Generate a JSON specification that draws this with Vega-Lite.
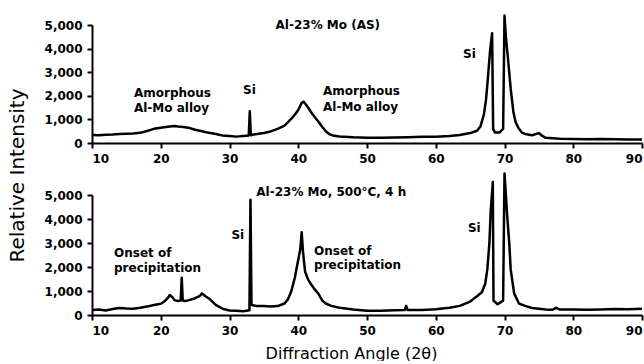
{
  "$schema": "https://vega.github.io/schema/vega-lite/v6.json",
  "background": "white",
  "padding": {"left": 7, "top": 14, "right": 0, "bottom": 0},
  "config": {
    "view": {"stroke": null},
    "font": "DejaVu Sans",
    "axis": {
      "grid": false,
      "domainColor": "black",
      "domainWidth": 2,
      "tickColor": "black",
      "tickWidth": 2,
      "tickSize": 5,
      "labelColor": "black",
      "labelFont": "DejaVu Sans",
      "labelFontWeight": "bold",
      "labelFontSize": 12,
      "labelPadding": 5,
      "labelOverlap": false,
      "labelBound": false,
      "titleColor": "black",
      "titleFont": "DejaVu Sans",
      "titleFontWeight": "normal"
    }
  },
  "datasets": {
    "asdep": [
      {"angle": 10, "intensity": 340}, {"angle": 11, "intensity": 330}, {"angle": 12, "intensity": 350}, {"angle": 13, "intensity": 360},
      {"angle": 14, "intensity": 380}, {"angle": 15, "intensity": 390}, {"angle": 16, "intensity": 400}, {"angle": 17, "intensity": 430},
      {"angle": 18, "intensity": 510}, {"angle": 19, "intensity": 600}, {"angle": 20, "intensity": 650}, {"angle": 21, "intensity": 690},
      {"angle": 22, "intensity": 720}, {"angle": 22.5, "intensity": 700}, {"angle": 23, "intensity": 690}, {"angle": 24, "intensity": 650},
      {"angle": 25, "intensity": 560}, {"angle": 26, "intensity": 500}, {"angle": 27, "intensity": 430}, {"angle": 28, "intensity": 380},
      {"angle": 29, "intensity": 320}, {"angle": 30, "intensity": 300}, {"angle": 31, "intensity": 270}, {"angle": 32, "intensity": 300},
      {"angle": 32.8, "intensity": 320}, {"angle": 32.95, "intensity": 1350}, {"angle": 33.1, "intensity": 330}, {"angle": 33.5, "intensity": 360},
      {"angle": 34, "intensity": 380}, {"angle": 35, "intensity": 420}, {"angle": 36, "intensity": 490}, {"angle": 37, "intensity": 600},
      {"angle": 38, "intensity": 740}, {"angle": 39, "intensity": 1030}, {"angle": 39.5, "intensity": 1200}, {"angle": 40, "intensity": 1400},
      {"angle": 40.5, "intensity": 1700}, {"angle": 40.8, "intensity": 1750}, {"angle": 41.2, "intensity": 1600}, {"angle": 41.6, "intensity": 1430},
      {"angle": 42, "intensity": 1250}, {"angle": 42.5, "intensity": 1060}, {"angle": 43, "intensity": 880}, {"angle": 43.5, "intensity": 680},
      {"angle": 44, "intensity": 500}, {"angle": 44.5, "intensity": 380}, {"angle": 45, "intensity": 320}, {"angle": 46, "intensity": 280},
      {"angle": 48, "intensity": 240}, {"angle": 50, "intensity": 220}, {"angle": 52, "intensity": 220}, {"angle": 54, "intensity": 230},
      {"angle": 56, "intensity": 240}, {"angle": 58, "intensity": 260}, {"angle": 60, "intensity": 270}, {"angle": 62, "intensity": 300},
      {"angle": 63.5, "intensity": 340}, {"angle": 65, "intensity": 420}, {"angle": 66, "intensity": 520}, {"angle": 66.5, "intensity": 700},
      {"angle": 67, "intensity": 1200}, {"angle": 67.3, "intensity": 1800}, {"angle": 67.6, "intensity": 2800}, {"angle": 67.9, "intensity": 3900},
      {"angle": 68.2, "intensity": 4650}, {"angle": 68.35, "intensity": 600}, {"angle": 68.6, "intensity": 450}, {"angle": 69.3, "intensity": 450},
      {"angle": 69.8, "intensity": 600}, {"angle": 70.0, "intensity": 5400}, {"angle": 70.2, "intensity": 4500}, {"angle": 70.5, "intensity": 3600},
      {"angle": 70.9, "intensity": 2300}, {"angle": 71.3, "intensity": 1300}, {"angle": 71.6, "intensity": 900}, {"angle": 72, "intensity": 650},
      {"angle": 72.5, "intensity": 450}, {"angle": 73, "intensity": 380}, {"angle": 74, "intensity": 330}, {"angle": 75, "intensity": 420},
      {"angle": 75.5, "intensity": 300}, {"angle": 76, "intensity": 220}, {"angle": 78, "intensity": 180}, {"angle": 80, "intensity": 170},
      {"angle": 82, "intensity": 160}, {"angle": 84, "intensity": 170}, {"angle": 86, "intensity": 160}, {"angle": 88, "intensity": 150},
      {"angle": 90, "intensity": 150}
    ],
    "annealed": [
      {"angle": 10, "intensity": 210}, {"angle": 11, "intensity": 230}, {"angle": 12, "intensity": 190}, {"angle": 13, "intensity": 250},
      {"angle": 14, "intensity": 290}, {"angle": 15, "intensity": 270}, {"angle": 16, "intensity": 260}, {"angle": 17, "intensity": 300},
      {"angle": 18, "intensity": 350}, {"angle": 19, "intensity": 420}, {"angle": 20, "intensity": 470}, {"angle": 20.5, "intensity": 560},
      {"angle": 21, "intensity": 700}, {"angle": 21.3, "intensity": 830}, {"angle": 21.7, "intensity": 740}, {"angle": 22, "intensity": 620},
      {"angle": 22.5, "intensity": 580}, {"angle": 22.9, "intensity": 600}, {"angle": 23.05, "intensity": 1550}, {"angle": 23.2, "intensity": 600},
      {"angle": 23.6, "intensity": 580}, {"angle": 24, "intensity": 610}, {"angle": 25, "intensity": 700}, {"angle": 25.7, "intensity": 800},
      {"angle": 26, "intensity": 900}, {"angle": 26.5, "intensity": 780}, {"angle": 27, "intensity": 690}, {"angle": 27.5, "intensity": 560},
      {"angle": 28, "intensity": 420}, {"angle": 29, "intensity": 260}, {"angle": 30, "intensity": 190}, {"angle": 31, "intensity": 180},
      {"angle": 32, "intensity": 160}, {"angle": 32.9, "intensity": 200}, {"angle": 33.05, "intensity": 4800}, {"angle": 33.2, "intensity": 420},
      {"angle": 33.6, "intensity": 400}, {"angle": 34, "intensity": 370}, {"angle": 35, "intensity": 370}, {"angle": 36, "intensity": 350},
      {"angle": 37, "intensity": 370}, {"angle": 38, "intensity": 480}, {"angle": 38.5, "intensity": 650}, {"angle": 39, "intensity": 1000},
      {"angle": 39.5, "intensity": 1550}, {"angle": 40, "intensity": 2300}, {"angle": 40.3, "intensity": 2750}, {"angle": 40.5, "intensity": 3450},
      {"angle": 40.7, "intensity": 2600}, {"angle": 41, "intensity": 1800}, {"angle": 41.4, "intensity": 1500}, {"angle": 41.8, "intensity": 1300},
      {"angle": 42.3, "intensity": 1100}, {"angle": 42.9, "intensity": 900}, {"angle": 43.5, "intensity": 600}, {"angle": 44, "intensity": 480},
      {"angle": 44.8, "intensity": 380}, {"angle": 46, "intensity": 300}, {"angle": 48, "intensity": 230}, {"angle": 50, "intensity": 180},
      {"angle": 52, "intensity": 180}, {"angle": 54, "intensity": 200}, {"angle": 55.5, "intensity": 210}, {"angle": 55.7, "intensity": 380},
      {"angle": 55.9, "intensity": 210}, {"angle": 58, "intensity": 210}, {"angle": 60, "intensity": 240}, {"angle": 62, "intensity": 300},
      {"angle": 63.5, "intensity": 380}, {"angle": 65, "intensity": 560}, {"angle": 66, "intensity": 780}, {"angle": 66.7, "intensity": 950},
      {"angle": 67.2, "intensity": 1300}, {"angle": 67.5, "intensity": 1900}, {"angle": 67.8, "intensity": 2970}, {"angle": 68.0, "intensity": 4370},
      {"angle": 68.3, "intensity": 5540}, {"angle": 68.4, "intensity": 600}, {"angle": 69, "intensity": 450}, {"angle": 69.8, "intensity": 600},
      {"angle": 70.0, "intensity": 5900}, {"angle": 70.4, "intensity": 4100}, {"angle": 70.7, "intensity": 2960}, {"angle": 70.9, "intensity": 1900},
      {"angle": 71.4, "intensity": 900}, {"angle": 72.1, "intensity": 480}, {"angle": 73, "intensity": 380}, {"angle": 74, "intensity": 290},
      {"angle": 75, "intensity": 260}, {"angle": 76, "intensity": 230}, {"angle": 77, "intensity": 220}, {"angle": 77.5, "intensity": 300},
      {"angle": 78, "intensity": 230}, {"angle": 80, "intensity": 230}, {"angle": 82, "intensity": 220}, {"angle": 84, "intensity": 230},
      {"angle": 86, "intensity": 250}, {"angle": 88, "intensity": 240}, {"angle": 90, "intensity": 260}
    ],
    "notesTop": [
      {"angle": 44.3, "intensity": 5000, "label": "Al-23% Mo (AS)", "anchor": "center"},
      {"angle": 16.1, "intensity": 2120, "label": "Amorphous", "anchor": "left"},
      {"angle": 16.1, "intensity": 1480, "label": "Al-Mo alloy", "anchor": "left"},
      {"angle": 32.9, "intensity": 2250, "label": "Si", "anchor": "center"},
      {"angle": 43.6, "intensity": 2220, "label": "Amorphous", "anchor": "left"},
      {"angle": 43.6, "intensity": 1540, "label": "Al-Mo alloy", "anchor": "left"},
      {"angle": 64.9, "intensity": 3760, "label": "Si", "anchor": "center"}
    ],
    "notesBottom": [
      {"angle": 33.9, "intensity": 5130, "label": "Al-23% Mo, 500°C, 4 h", "anchor": "left"},
      {"angle": 31.2, "intensity": 3350, "label": "Si", "anchor": "center"},
      {"angle": 13.2, "intensity": 2600, "label": "Onset of", "anchor": "left"},
      {"angle": 13.2, "intensity": 1970, "label": "precipitation", "anchor": "left"},
      {"angle": 42.3, "intensity": 2670, "label": "Onset of", "anchor": "left"},
      {"angle": 42.3, "intensity": 2080, "label": "precipitation", "anchor": "left"},
      {"angle": 65.6, "intensity": 3630, "label": "Si", "anchor": "center"}
    ]
  },
  "bounds": "flush",
  "spacing": 52,
  "vconcat": [
    {
      "width": 550,
      "height": 118,
      "layer": [
        {
          "data": {"name": "asdep"},
          "mark": {"type": "line", "color": "black", "strokeWidth": 2.5, "clip": false, "strokeJoin": "round"},
          "encoding": {
            "x": {"field": "angle", "type": "quantitative", "scale": {"domain": [10, 90], "nice": false},
                  "axis": {"values": [10, 20, 30, 40, 50, 60, 70, 80, 90], "title": null}},
            "y": {"field": "intensity", "type": "quantitative", "scale": {"domain": [0, 5000], "nice": false},
                  "axis": {"values": [0, 1000, 2000, 3000, 4000, 5000], "tickCount": 6, "labelOverlap": false, "format": ",.0f", "title": "Relative Intensity",
                           "titleFontSize": 20, "titleX": -65, "titleY": 150}}
          }
        },
        {
          "data": {"name": "notesTop"},
          "transform": [{"filter": "datum.anchor == 'left'"}],
          "mark": {"type": "text", "align": "left", "baseline": "middle", "font": "DejaVu Sans", "fontWeight": "bold", "fontSize": 12, "color": "black"},
          "encoding": {
            "x": {"field": "angle", "type": "quantitative"},
            "y": {"field": "intensity", "type": "quantitative"},
            "text": {"field": "label"}
          }
        },
        {
          "data": {"name": "notesTop"},
          "transform": [{"filter": "datum.anchor == 'center'"}],
          "mark": {"type": "text", "align": "center", "baseline": "middle", "font": "DejaVu Sans", "fontWeight": "bold", "fontSize": 12, "color": "black"},
          "encoding": {
            "x": {"field": "angle", "type": "quantitative"},
            "y": {"field": "intensity", "type": "quantitative"},
            "text": {"field": "label"}
          }
        }
      ]
    },
    {
      "width": 550,
      "height": 120,
      "layer": [
        {
          "data": {"name": "annealed"},
          "mark": {"type": "line", "color": "black", "strokeWidth": 2.5, "clip": false, "strokeJoin": "round"},
          "encoding": {
            "x": {"field": "angle", "type": "quantitative", "scale": {"domain": [10, 90], "nice": false},
                  "axis": {"values": [10, 20, 30, 40, 50, 60, 70, 80, 90], "title": "Diffraction Angle (2θ)",
                           "titleFontSize": 16, "titleX": 259, "titleY": 30}},
            "y": {"field": "intensity", "type": "quantitative", "scale": {"domain": [0, 5000], "nice": false},
                  "axis": {"values": [0, 1000, 2000, 3000, 4000, 5000], "tickCount": 6, "labelOverlap": false, "format": ",.0f", "title": null}}
          }
        },
        {
          "data": {"name": "notesBottom"},
          "transform": [{"filter": "datum.anchor == 'left'"}],
          "mark": {"type": "text", "align": "left", "baseline": "middle", "font": "DejaVu Sans", "fontWeight": "bold", "fontSize": 12, "color": "black"},
          "encoding": {
            "x": {"field": "angle", "type": "quantitative"},
            "y": {"field": "intensity", "type": "quantitative"},
            "text": {"field": "label"}
          }
        },
        {
          "data": {"name": "notesBottom"},
          "transform": [{"filter": "datum.anchor == 'center'"}],
          "mark": {"type": "text", "align": "center", "baseline": "middle", "font": "DejaVu Sans", "fontWeight": "bold", "fontSize": 12, "color": "black"},
          "encoding": {
            "x": {"field": "angle", "type": "quantitative"},
            "y": {"field": "intensity", "type": "quantitative"},
            "text": {"field": "label"}
          }
        }
      ]
    }
  ]
}
